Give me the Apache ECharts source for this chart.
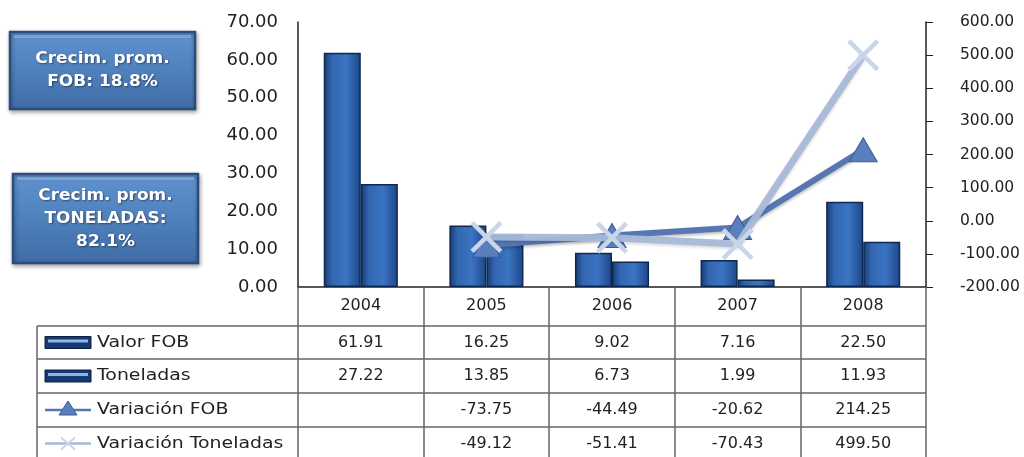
<!DOCTYPE html>
<html>
<head>
<meta charset="utf-8">
<script src="https://cdn.jsdelivr.net/npm/echarts@6/dist/echarts.min.js"></script>
<style>html,body{margin:0;padding:0;background:#fff}#c{width:1024px;height:457px}</style>
</head>
<body>
<div id="c"></div>
<script>
const years = ['2004', '2005', '2006', '2007', '2008'];
const valorFOB = [61.91, 16.25, 9.02, 7.16, 22.50];
const toneladas = [27.22, 13.85, 6.73, 1.99, 11.93];
const variacionFOB = [null, -73.75, -44.49, -20.62, 214.25];
const variacionTon = [null, -49.12, -51.41, -70.43, 499.50];
const seriesNames = ['Valor FOB', 'Toneladas', 'Variación FOB', 'Variación Toneladas'];
const leftAxis = { min: 0, max: 70, step: 10 };
const rightAxis = { min: -200, max: 600, step: 100 };
const boxTexts = ['Crecim. prom.\nFOB: 18.8%', 'Crecim. prom.\nTONELADAS:\n82.1%'];

const FONT = 'DejaVu Sans';
const chart = echarts.init(document.getElementById('c'), null, { renderer: 'canvas' });

const barFill = {
  type: 'linear', x: 0, y: 0, x2: 1, y2: 0,
  colorStops: [
    { offset: 0, color: '#163a72' }, { offset: 0.22, color: '#3266b0' },
    { offset: 0.6, color: '#3b74c2' }, { offset: 1, color: '#1d4688' }
  ]
};
const xPath = 'path://M2,0 L10,8 L18,0 L20,2 L12,10 L20,18 L18,20 L10,12 L2,20 L0,18 L8,10 L0,2 Z';

chart.setOption({
  animation: false,
  backgroundColor: '#ffffff',
  grid: { left: 298, right: 98, top: 22, bottom: 170, outerBoundsMode: 'none', containLabel: false },
  xAxis: {
    type: 'category', data: years,
    axisLine: { lineStyle: { color: '#222', width: 1.5 } },
    axisTick: { show: true, length: 175, lineStyle: { color: '#666', width: 1.5 } },
    axisLabel: { margin: 11, fontFamily: FONT, fontSize: 16, color: '#222' }
  },
  yAxis: [
    {
      type: 'value', min: leftAxis.min, max: leftAxis.max, interval: leftAxis.step,
      axisLine: { show: true, lineStyle: { color: '#222', width: 1.5 } },
      axisTick: { show: false },
      splitLine: { show: false },
      axisLabel: { margin: 20, fontFamily: FONT, fontSize: 18, color: '#222', formatter: v => v.toFixed(2) }
    },
    {
      type: 'value', min: rightAxis.min, max: rightAxis.max, interval: rightAxis.step,
      position: 'right',
      axisLine: { show: true, lineStyle: { color: '#222', width: 1.5 } },
      axisTick: { show: true, length: 7, lineStyle: { color: '#222' } },
      splitLine: { show: false },
      axisLabel: { margin: 20, padding: [0, 0, 0, 14], fontFamily: FONT, fontSize: 15.5, color: '#222', formatter: v => v.toFixed(2) }
    }
  ],
  series: [
    {
      name: seriesNames[0], type: 'bar', data: valorFOB, yAxisIndex: 0,
      barGap: '0%', barCategoryGap: '41%',
      itemStyle: { color: barFill, borderColor: '#0f2850', borderWidth: 1.5 }
    },
    {
      name: seriesNames[1], type: 'bar', data: toneladas, yAxisIndex: 0,
      barGap: '0%', barCategoryGap: '41%',
      itemStyle: { color: barFill, borderColor: '#0f2850', borderWidth: 1.5 }
    },
    {
      name: seriesNames[2], type: 'line', data: variacionFOB, yAxisIndex: 1, z: 5,
      symbol: 'triangle', symbolSize: [28, 24],
      lineStyle: { color: '#5877b2', width: 6, shadowColor: 'rgba(0,0,0,0.25)', shadowBlur: 3, shadowOffsetY: 2 },
      itemStyle: { color: '#5a7fbe', borderColor: '#3b5a90', borderWidth: 1 }
    },
    {
      name: seriesNames[3], type: 'line', data: variacionTon, yAxisIndex: 1, z: 6,
      symbol: xPath, symbolSize: 32,
      lineStyle: { color: '#a6b9d8', width: 7, opacity: 0.95, shadowColor: 'rgba(0,0,0,0.15)', shadowBlur: 3, shadowOffsetY: 2 },
      itemStyle: { color: '#c9d6ea' }
    }
  ]
});

// Data table drawn below the plot
const rowsY = [326, 359, 393, 427, 460];
const tableLeft = 37, tableRight = 926;
const g = [];
const lineCol = '#666';
rowsY.slice(0, 4).forEach(y => {
  g.push({ type: 'line', shape: { x1: tableLeft, y1: y, x2: tableRight, y2: y }, style: { stroke: lineCol, lineWidth: 1.5 } });
});
g.push({ type: 'line', shape: { x1: tableLeft, y1: rowsY[0], x2: tableLeft, y2: 460 }, style: { stroke: lineCol, lineWidth: 1.5 } });

const rowData = [valorFOB, toneladas, variacionFOB, variacionTon];
rowData.forEach((arr, r) => {
  const cy = (rowsY[r] + rowsY[r + 1]) / 2;
  arr.forEach((v, i) => {
    if (v === null) return;
    const x = chart.convertToPixel({ xAxisIndex: 0 }, years[i]);
    g.push({ type: 'text', x: x, y: cy, style: { text: v.toFixed(2), fill: '#222', font: '16px "' + FONT + '"', align: 'center', verticalAlign: 'middle' } });
  });
  // legend key
  const iconX = 45, iconW = 46;
  if (r < 2) {
    g.push({ type: 'rect', shape: { x: iconX, y: cy - 6, width: iconW, height: 12 }, style: { fill: '#163a70', stroke: '#0b1f40', lineWidth: 1 } });
    g.push({ type: 'rect', shape: { x: iconX + 3, y: cy - 3, width: iconW - 6, height: 3 }, style: { fill: '#8fb4e4' } });
  } else if (r === 2) {
    g.push({ type: 'line', shape: { x1: iconX, y1: cy, x2: iconX + iconW, y2: cy }, style: { stroke: '#5877b2', lineWidth: 2.5 } });
    g.push({ type: 'polygon', shape: { points: [[iconX + 23, cy - 9], [iconX + 32, cy + 5], [iconX + 14, cy + 5]] }, style: { fill: '#5a7fbe', stroke: '#3b5a90', lineWidth: 1 } });
  } else {
    g.push({ type: 'line', shape: { x1: iconX, y1: cy, x2: iconX + iconW, y2: cy }, style: { stroke: '#a6b9d8', lineWidth: 2.5 } });
    g.push({ type: 'line', shape: { x1: iconX + 16, y1: cy - 6, x2: iconX + 30, y2: cy + 6 }, style: { stroke: '#c9d6ea', lineWidth: 2 } });
    g.push({ type: 'line', shape: { x1: iconX + 16, y1: cy + 6, x2: iconX + 30, y2: cy - 6 }, style: { stroke: '#c9d6ea', lineWidth: 2 } });
  }
  g.push({ type: 'text', x: 97, y: cy, scaleX: 1.18, style: { text: seriesNames[r], fill: '#222', font: '16px "' + FONT + '"', align: 'left', verticalAlign: 'middle' } });
});

// Annotation boxes
const boxes = [
  { x: 10, y: 32, w: 185, h: 77 },
  { x: 13, y: 174, w: 185, h: 89 }
];
boxes.forEach((b, k) => {
  g.push({
    type: 'rect', shape: { x: b.x, y: b.y, width: b.w, height: b.h },
    style: {
      fill: { type: 'linear', x: 0, y: 0, x2: 0, y2: 1, colorStops: [{ offset: 0, color: '#6092cf' }, { offset: 0.5, color: '#4f81bd' }, { offset: 1, color: '#3f6ca6' }] },
      stroke: '#2b4c7c', lineWidth: 2.5, shadowBlur: 4, shadowColor: 'rgba(0,0,0,0.35)', shadowOffsetX: 1, shadowOffsetY: 2
    }
  });
  g.push({
    type: 'rect', shape: { x: b.x + 4, y: b.y + 3, width: b.w - 8, height: 3 },
    style: { fill: 'rgba(255,255,255,0.25)' }
  });
  g.push({
    type: 'text', x: b.x + b.w / 2, y: b.y + b.h / 2, scaleX: 1.06,
    style: {
      text: boxTexts[k], fill: '#ffffff', font: 'bold 16px "' + FONT + '"', align: 'center', verticalAlign: 'middle',
      lineHeight: 23, textShadowColor: 'rgba(0,0,0,0.45)', textShadowBlur: 2, textShadowOffsetX: 1, textShadowOffsetY: 1
    }
  });
});

chart.setOption({ graphic: g });
</script>
</body>
</html>
